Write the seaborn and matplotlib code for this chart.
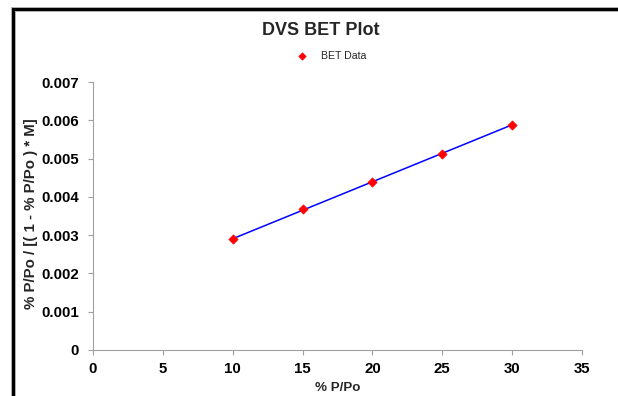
#!/usr/bin/env python3
"""DVS BET plot recreated with seaborn."""

import numpy as np
import pandas as pd
import seaborn as sns
import matplotlib.pyplot as plt
from matplotlib.lines import Line2D

# BET data
pressure = [10, 15, 20, 25, 30]
bet_value = [0.00290, 0.00367, 0.00438, 0.00513, 0.00589]
x_ticks = [0, 5, 10, 15, 20, 25, 30, 35]
y_ticks = [0, 0.001, 0.002, 0.003, 0.004, 0.005, 0.006, 0.007]
y_tick_labels = ['0', '0.001', '0.002', '0.003', '0.004', '0.005', '0.006', '0.007']

sns.set_style('white')
plt.rcParams['font.family'] = ['Liberation Sans', 'DejaVu Sans']

df = pd.DataFrame({'p': pressure, 'y': bet_value})

fig = plt.figure(figsize=(6.18, 3.96), dpi=100)
ax = fig.add_axes([0.1505, 0.1162, 0.7912, 0.6767])

# linear trend line over the data range
slope, intercept = np.polyfit(df['p'], df['y'], 1)
fit = pd.DataFrame({'p': pressure, 'y': [slope * p + intercept for p in pressure]})
sns.lineplot(data=fit, x='p', y='y', ax=ax, color='#0000ff', linewidth=1.1, zorder=2)
sns.scatterplot(data=df, x='p', y='y', ax=ax, marker='D', color='#ff0000', s=22,
                edgecolor='#ff0000', linewidth=0.5, zorder=3, label='BET Data')

ax.set_xlim(0, 35)
ax.set_ylim(0, 0.007)
ax.set_xticks(x_ticks)
ax.set_yticks(y_ticks)
ax.set_yticklabels(y_tick_labels)
for lab in ax.get_xticklabels() + ax.get_yticklabels():
    lab.set_fontweight('bold')
    lab.set_fontsize(10.8)

ax.set_xlabel('% P/Po', fontsize=9.6, fontweight='bold')
ax.set_ylabel('% P/Po / [( 1 - % P/Po ) * M]', fontsize=10.8, fontweight='bold')
ax.xaxis.set_label_coords(0.5, -0.12)
ax.yaxis.set_label_coords(-0.113, 0.51)

for side in ['top', 'right']:
    ax.spines[side].set_visible(False)
for side in ['left', 'bottom']:
    ax.spines[side].set_color('#a0a0a0')
    ax.spines[side].set_linewidth(0.8)
ax.tick_params(axis='both', direction='out', length=3.6, width=0.8, pad=5,
               bottom=True, left=True, labelcolor='black', color='#a0a0a0')
ax.tick_params(axis='y', pad=6.5)

fig.text(0.519, 0.922, 'DVS BET Plot', ha='center', va='center', fontsize=13, fontweight='bold')

leg = ax.legend(loc='center', bbox_to_anchor=(0.482, 1.097), frameon=False, fontsize=7.6,
                handletextpad=0.8, markerscale=0.8)

# frame left over from the source sheet
for lw, col in [(5, '#b0b0b0'), (3, 'black')]:
    fig.add_artist(Line2D([13 / 618, 13 / 618], [0, 1 - 9 / 396], transform=fig.transFigure,
                          color=col, linewidth=lw * 0.72, solid_capstyle='projecting'))
    fig.add_artist(Line2D([13 / 618, 1], [1 - 9 / 396, 1 - 9 / 396], transform=fig.transFigure,
                          color=col, linewidth=lw * 0.72, solid_capstyle='projecting'))

fig.savefig('out.png', dpi=100)
